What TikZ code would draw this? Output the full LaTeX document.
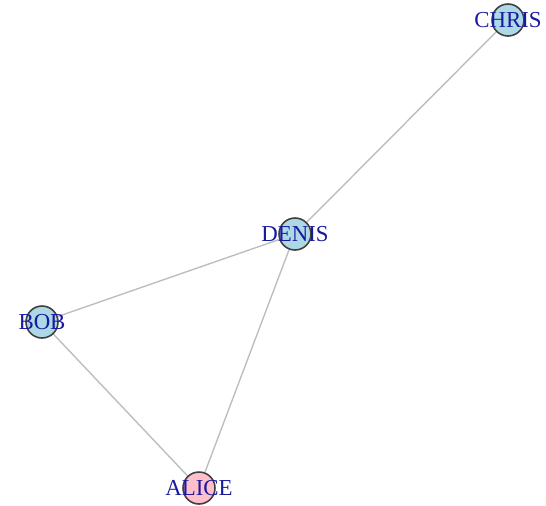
\documentclass[tikz,border=0pt]{standalone}
\usepackage{fontspec}
\setmainfont{Liberation Serif}
\usetikzlibrary{backgrounds}

\definecolor{vblue}{HTML}{ADD8E6}
\definecolor{vpink}{HTML}{FFC0CB}
\definecolor{vtext}{HTML}{1A1AA0}
\definecolor{vedge}{HTML}{BEBEBE}

\begin{document}
\begin{tikzpicture}[x=0.02cm, y=-0.02cm,
    vertex/.style={circle, draw=black!75, line width=0.9pt, fill=vblue,
        minimum size=0.64cm, inner sep=0pt},
    vname/.style={text=vtext, font=\fontsize{13}{13}\selectfont, inner sep=0pt},
    link/.style={draw=vedge, line width=0.8pt}]
    \useasboundingbox (0,0) rectangle (546,505);
    \node[vertex] (chris) at (508,20) [label={[vname]center:CHRIS}] {};
    \node[vertex] (denis) at (295,234) [label={[vname]center:DENIS}] {};
    \node[vertex] (bob) at (42,322) [label={[vname]center:BOB}] {};
    \node[vertex, fill=vpink] (alice) at (199,488) [label={[vname]center:ALICE}] {};
    % edges go under the vertices
    \begin{scope}[on background layer]
        \path[link]
        (denis) -- (chris)
        (bob) -- (denis)
        (bob) -- (alice)
        (alice) -- (denis)
        ;
    \end{scope}
\end{tikzpicture}
\end{document}
